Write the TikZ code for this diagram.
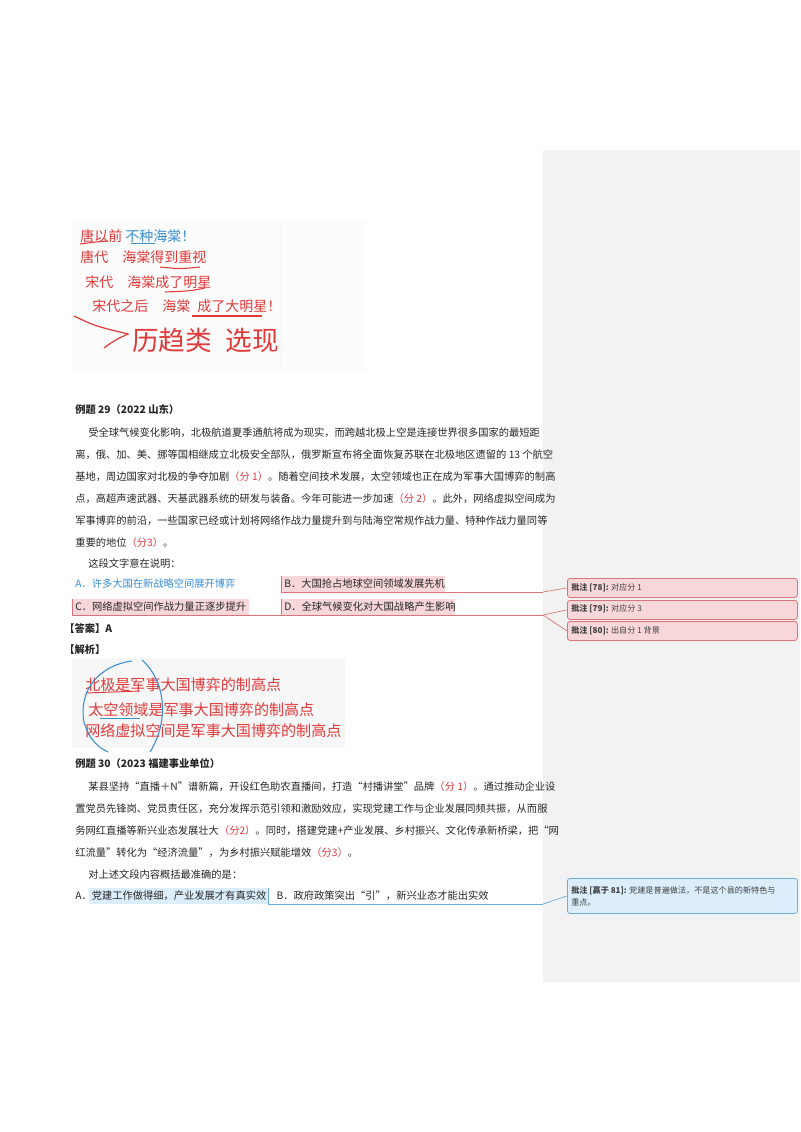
\documentclass[tikz,border=0pt]{standalone}
\usepackage{fontspec}
\setmainfont{Noto Sans CJK SC}
\newfontfamily\cjk{Noto Sans CJK SC}
\definecolor{side}{HTML}{F2F2F2}
\definecolor{redc}{HTML}{E0393E}
\definecolor{bluec}{HTML}{3A8FD0}
\definecolor{pinkf}{HTML}{F8D7DA}
\definecolor{pinkd}{HTML}{D9747A}
\definecolor{bluef}{HTML}{DCEEFB}
\definecolor{blued}{HTML}{6AAEDD}
\definecolor{hand}{HTML}{E23A3A}
\tikzset{
 body/.style={anchor=west,inner sep=0,font=\fontsize{7.7}{8}\selectfont,text=black!85},
 bold/.style={body,font=\fontsize{7.7}{8}\selectfont\bfseries},
 cmt/.style={draw=pinkd,fill=pinkf,rounded corners=2pt,line width=0.6pt},
 cmtb/.style={draw=blued,fill=bluef,rounded corners=2pt,line width=0.6pt},
 ctext/.style={anchor=west,inner sep=0,font=\fontsize{6.1}{9}\selectfont,text=black!75},
 hw/.style={anchor=west,inner sep=0,text=hand,font=\fontsize{10.5}{11}\selectfont},
 hw2/.style={anchor=west,inner sep=0,text=hand,font=\fontsize{11.3}{12}\selectfont},
 link/.style={pinkd,line width=0.5pt},
 linkb/.style={blued,line width=0.5pt}
}
\begin{document}
\begin{tikzpicture}[x=0.75pt,y=-0.75pt]
\useasboundingbox (0,0) rectangle (800,1132);
\fill[white] (0,0) rectangle (800,1132);
\fill[side] (543,150) rectangle (800,982);
% image 1
\fill[black!1] (72,220) rectangle (365,372);
\draw[black!4] (280,222) -- (280,370);
\node[hw] (h1) at (80,236) {唐以前 \textcolor{bluec}{不种海棠！}};
\draw[hand,line width=0.8pt] (80,244) .. controls (95,242) .. (108,241);
\draw[bluec,line width=0.6pt] (131,243) -- (155,243);
\node[hw] (h2) at (80,257) {唐代\quad 海棠得到重视};
\draw[hand,line width=0.8pt] (160,267) .. controls (180,269) .. (200,267);
\node[hw] (h3) at (85,282) {宋代\quad 海棠成了明星};
\draw[hand,line width=0.8pt] (165,292) .. controls (190,291) .. (205,288);
\node[hw] (h4) at (92,306) {宋代之后\quad 海棠\enspace 成了大明星！};
\draw[hand,line width=0.8pt] (192,316) -- (262,316);
\draw[hand,line width=0.9pt] (74,316) .. controls (95,326) .. (128,334) .. controls (115,340) .. (104,348);
\node[anchor=west,inner sep=0,text=hand,font=\fontsize{20}{20}\selectfont\itshape] (h5) at (132,340) {历趋类\enspace 选现};
% example 29
\node[bold] (t29) at (75,410) {例题 29（2022 山东）};
\node[body] (p1) at (88,433) {受全球气候变化影响，北极航道夏季通航将成为现实，而跨越北极上空是连接世界很多国家的最短距};
\node[body] (p2) at (75,455) {离，俄、加、美、挪等国相继成立北极安全部队，俄罗斯宣布将全面恢复苏联在北极地区遗留的 13 个航空};
\node[body] (p3) at (75,477) {基地，周边国家对北极的争夺加剧\textcolor{redc}{（分 1）}。随着空间技术发展，太空领域也正在成为军事大国博弈的制高};
\node[body] (p4) at (75,499) {点，高超声速武器、天基武器系统的研发与装备。今年可能进一步加速\textcolor{redc}{（分 2）}。此外，网络虚拟空间成为};
\node[body] (p5) at (75,521) {军事博弈的前沿，一些国家已经或计划将网络作战力量提升到与陆海空常规作战力量、特种作战力量同等};
\node[body] (p6) at (75,543) {重要的地位\textcolor{redc}{（分3）}。};
\node[body] (q) at (88,564) {这段文字意在说明：};
% options
\fill[pinkf] (281,576) rectangle (445,592);
\fill[pinkf] (72,599) rectangle (249,615);
\fill[pinkf] (281,599) rectangle (455,615);
\node[body,text=bluec] (oa) at (75,584) {A．许多大国在新战略空间展开博弈};
\node[body] (ob) at (284,584) {B．大国抢占地球空间领域发展先机};
\node[body] (oc) at (75,607) {C．网络虚拟空间作战力量正逐步提升};
\node[body] (od) at (284,607) {D．全球气候变化对大国战略产生影响};
\draw[link] (281,576) -- (281,592) -- (543,592);
\draw[link] (72,599) -- (72,615) -- (543,615);
\draw[link] (281,599) -- (281,615);
% comments
\node[cmt,minimum width=230pt*0.75,minimum height=19pt*0.75,anchor=north west,inner sep=0] (c78) at (567,578) {};
\node[cmt,minimum width=230pt*0.75,minimum height=19pt*0.75,anchor=north west,inner sep=0] (c79) at (567,600) {};
\node[cmt,minimum width=230pt*0.75,minimum height=19pt*0.75,anchor=north west,inner sep=0] (c80) at (567,621) {};
\node[ctext] at (571,588) {\textbf{批注 [78]:} 对应分 1};
\node[ctext] at (571,609) {\textbf{批注 [79]:} 对应分 3};
\node[ctext] at (571,631) {\textbf{批注 [80]:} 出自分 1 背景};
\coordinate (j1) at (543,592);
\coordinate (j2) at (543,615);
\draw[link] (j1) -- (c78.west);
\draw[link] (j2) -- (c79.west);
\draw[link] (j2) -- (c80.west);
\node[bold] (ans) at (64,629) {【答案】A};
\node[bold] (jx) at (64,650) {【解析】};
% image 2
\fill[black!3] (72,658) rectangle (345,748);
\node[hw2] (g1) at (85,685) {北极是军事大国博弈的制高点};
\node[hw2] (g2) at (88,710) {太空领域是军事大国博弈的制高点};
\node[hw2] (g3) at (85,731) {网络虚拟空间是军事大国博弈的制高点};
\draw[hand,line width=0.7pt] (86,693) -- (140,691);
\draw[bluec,line width=0.6pt] (100,718) -- (140,718);
\draw[bluec,line width=0.8pt] (132,661) .. controls (100,665) and (78,690) .. (84,722) .. controls (90,742) and (100,748) .. (108,752);
\draw[bluec,line width=0.8pt] (142,660) .. controls (165,680) and (170,720) .. (150,752);
% example 30
\node[bold] (t30) at (75,764) {例题 30（2023 福建事业单位）};
\node[body] (r1) at (88,787) {某县坚持“直播＋N”谱新篇，开设红色助农直播间，打造“村播讲堂”品牌\textcolor{redc}{（分 1）}。通过推动企业设};
\node[body] (r2) at (75,809) {置党员先锋岗、党员责任区，充分发挥示范引领和激励效应，实现党建工作与企业发展同频共振，从而服};
\node[body] (r3) at (75,831) {务网红直播等新兴业态发展壮大\textcolor{redc}{（分2）}。同时，搭建党建+产业发展、乡村振兴、文化传承新桥梁，把“网};
\node[body] (r4) at (75,853) {红流量”转化为“经济流量”，为乡村振兴赋能增效\textcolor{redc}{（分3）}。};
\node[body] (r5) at (88,875) {对上述文段内容概括最准确的是：};
\fill[bluef] (89,888) rectangle (268,904);
\node[body] (s1) at (75,896) {A．党建工作做得细，产业发展才有真实效\quad B．政府政策突出“引”，新兴业态才能出实效};
\draw[linkb] (268,888) -- (268,904) -- (543,904);
\node[cmtb,minimum width=230pt*0.75,minimum height=35pt*0.75,anchor=north west,inner sep=0] (c81) at (567,878) {};
\node[ctext,align=left] at (571,896) {\textbf{批注 [赢于 81]:} 党建是普遍做法，不是这个县的新特色与\\重点。};
\coordinate (j3) at (543,904);
\draw[linkb] (j3) -- (c81.west);
\end{tikzpicture}
\end{document}
